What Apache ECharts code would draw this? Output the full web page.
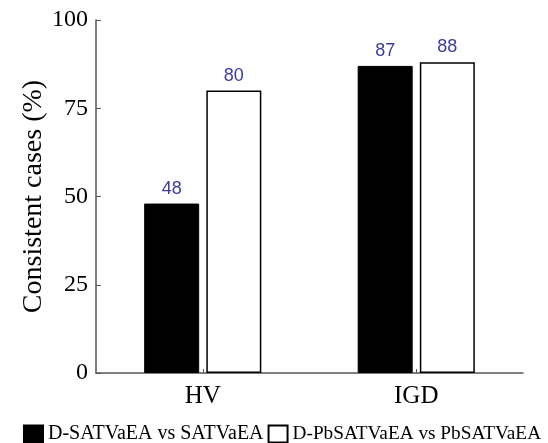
<!DOCTYPE html>
<html><head><meta charset="utf-8">
<script src="https://cdn.jsdelivr.net/npm/echarts@6/dist/echarts.min.js"></script>
<style>html,body{margin:0;padding:0;background:#fff}#c{width:548px;height:443px}</style>
</head><body><div id="c"></div>
<script>
const categories = ['HV', 'IGD'];
const seriesNames = ['D-SATVaEA vs SATVaEA', 'D-PbSATVaEA vs PbSATVaEA'];
const valuesA = [48, 87];
const valuesB = [80, 88];
const yTicks = [0, 25, 50, 75, 100];

const chart = echarts.init(document.getElementById('c'));
const serif = 'Liberation Serif';
const labelStyle = {show: true, position: 'top', distance: 6, color: '#3c3ca0', fontFamily: 'Liberation Sans', fontSize: 18};
chart.setOption({
  animation: false,
  grid: {left: 96, top: 20, right: 25, bottom: 70},
  legend: {
    bottom: -1, left: 18, itemWidth: 19, itemHeight: 17, itemGap: 4,
    padding: [0, 5, 0, 5],
    icon: 'rect',
    textStyle: {fontFamily: serif, fontSize: 20, color: '#000'},
    data: [
      {name: seriesNames[0], textStyle: {fontSize: 20}},
      {name: seriesNames[1], textStyle: {fontSize: 19.3}}
    ]
  },
  xAxis: {
    type: 'category', data: categories,
    axisLine: {lineStyle: {color: '#555', width: 1.5}},
    axisTick: {show: true, inside: true, alignWithLabel: true, length: 4, lineStyle: {color: '#555'}},
    axisLabel: {fontFamily: serif, fontSize: 25, color: '#000', margin: 11}
  },
  yAxis: {
    type: 'value', min: yTicks[0], max: yTicks[yTicks.length-1], interval: 25,
    name: 'Consistent cases (%)', nameLocation: 'middle', nameGap: 48,
    nameMoveOverlap: false,
    nameTextStyle: {fontFamily: serif, fontSize: 28, color: '#000'},
    axisLine: {show: true, lineStyle: {color: '#555', width: 1.5}},
    axisTick: {show: true, inside: true, length: 5, lineStyle: {color: '#555'}},
    axisLabel: {fontFamily: serif, fontSize: 24, color: '#000', margin: 8},
    splitLine: {show: false}
  },
  series: [
    {name: seriesNames[0], type: 'bar', data: valuesA, barWidth: 55, barGap: '13%',
     itemStyle: {color: '#000', borderColor: '#000', borderWidth: 1}, label: labelStyle},
    {name: seriesNames[1], type: 'bar', data: valuesB, barWidth: 55,
     itemStyle: {color: '#fff', borderColor: '#000', borderWidth: 1.5}, label: labelStyle}
  ]
});
</script></body></html>
